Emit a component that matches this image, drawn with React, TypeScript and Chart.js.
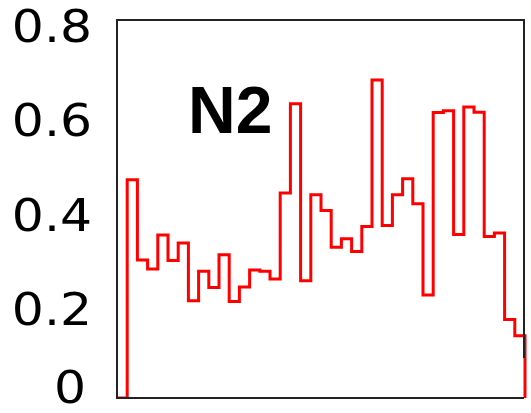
import React, { useEffect, useRef } from "react";
import { Chart, registerables } from "chart.js";

Chart.register(...registerables);

// Histogram bin contents (40 equal bins)
const binValues = [
  0, 0.462, 0.292, 0.273, 0.345, 0.291, 0.328, 0.206, 0.268, 0.234,
  0.303, 0.204, 0.235, 0.271, 0.268, 0.252, 0.434, 0.623, 0.248, 0.43,
  0.397, 0.319, 0.337, 0.31, 0.363, 0.673, 0.365, 0.43, 0.464, 0.411,
  0.218, 0.604, 0.608, 0.346, 0.616, 0.605, 0.342, 0.349, 0.166, 0.132,
];
const yTicks = [0, 0.2, 0.4, 0.6, 0.8];
const yTickLabels = ["0", "0.2", "0.4", "0.6", "0.8"];
const titleText = "N2";

export default function App() {
  const ref = useRef<HTMLCanvasElement | null>(null);

  useEffect(() => {
    if (!ref.current) return;
    const points = binValues.map((v, i) => ({ x: i, y: v }));
    points.push({ x: binValues.length, y: 0 });

    const framePlugin = {
      id: "frameAndLabels",
      afterDatasetsDraw(chart: any) {
        const { ctx, chartArea } = chart;
        const { left, top, right, bottom } = chartArea;
        const y = chart.scales.y;
        ctx.save();
        ctx.strokeStyle = "#222";
        ctx.lineWidth = 2;
        ctx.beginPath();
        ctx.moveTo(right - 1, bottom - 40);
        ctx.lineTo(right - 1, top);
        ctx.lineTo(left, top);
        ctx.lineTo(left, bottom);
        ctx.lineTo(right - 1, bottom);
        ctx.stroke();

        ctx.fillStyle = "#000";
        ctx.font = '45px "DejaVu Sans"';
        ctx.textAlign = "right";
        ctx.textBaseline = "middle";
        yTicks.forEach((v, i) => {
          let py = y.getPixelForValue(v) + 10;
          let px = left - 25;
          if (py > bottom - 7) {
            py = bottom - 7;
            px -= 6;
          }
          ctx.save();
          ctx.translate(px, py);
          ctx.scale(1.12, 1);
          ctx.fillText(yTickLabels[i], 0, 0);
          ctx.restore();
        });

        ctx.font = 'bold 66px "Liberation Sans"';
        ctx.textAlign = "left";
        ctx.textBaseline = "alphabetic";
        ctx.fillText(titleText, left + 71, top + 113);
        ctx.restore();
      },
    };

    const chart = new Chart(ref.current, {
      type: "line",
      data: {
        datasets: [
          {
            data: points,
            borderColor: "#ff0000",
            borderWidth: 3,
            pointRadius: 0,
            fill: false,
            stepped: "before",
            clip: { left: 0, top: 5, right: 3, bottom: 0 },
          },
        ],
      },
      options: {
        animation: false,
        responsive: false,
        devicePixelRatio: 1,
        layout: { padding: { left: 117, top: 20, right: 6, bottom: 15 } },
        plugins: { legend: { display: false }, tooltip: { enabled: false }, title: { display: false } },
        scales: {
          x: { type: "linear", min: 0, max: binValues.length, display: false },
          y: { min: 0, max: 0.8, display: false },
        },
      },
      plugins: [framePlugin],
    });
    return () => chart.destroy();
  }, []);

  return (
    <div style={{ position: "absolute", left: 0, top: 0, width: 531, height: 413, background: "#fff" }}>
      <canvas ref={ref} width={531} height={413} />
    </div>
  );
}
